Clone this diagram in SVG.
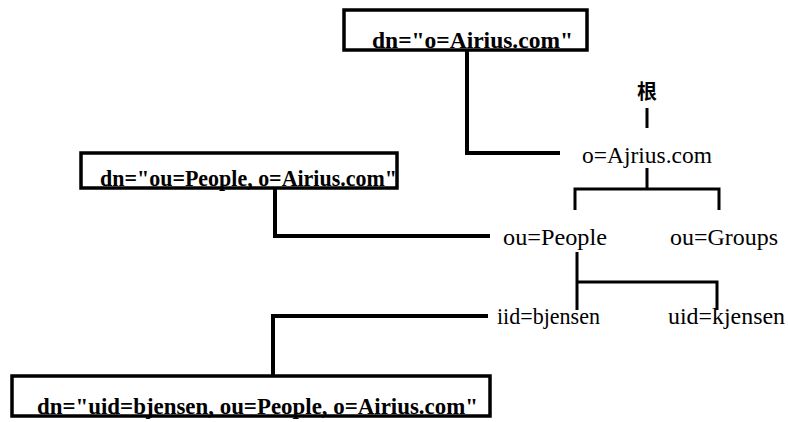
<svg xmlns="http://www.w3.org/2000/svg" width="788" height="422" viewBox="0 0 788 422">
<style>
.box{fill:none;stroke:#000;stroke-width:3.5}
.bt{font-family:'Liberation Serif','Tinos','DejaVu Serif','Times New Roman',serif;font-size:23px;font-weight:bold;fill:#000}
.lb{font-family:'Liberation Serif','Tinos','DejaVu Serif','Times New Roman',serif;font-size:23px;fill:#000}
.cjk{font-family:'Noto Sans CJK SC','Noto Sans CJK JP',sans-serif;font-size:20px;font-weight:bold;fill:#000}
.c{fill:none;stroke:#000;stroke-width:4}
.t{fill:none;stroke:#000;stroke-width:3}
</style>
<rect width="788" height="422" fill="#fff"/>
<g id="connectors">
<polyline class="c" points="467,50 467,153 560,153"/>
<polyline class="c" points="275,188 275,236 490,236"/>
<polyline class="c" points="273,376 273,316 488,316"/>
<line class="t" x1="647" y1="108" x2="647" y2="128"/>
<line class="t" x1="647" y1="168" x2="647" y2="189"/>
<polyline class="t" points="575,210 575,189 719,189 719,210"/>
<line class="t" x1="577" y1="252" x2="577" y2="310"/>
<polyline class="t" points="577,282 717,282 717,310"/>
</g>
<g id="box-root">
<rect class="box" x="344" y="10" width="243" height="40"/>
<text class="bt" x="372" y="48" textLength="201" lengthAdjust="spacingAndGlyphs">dn="o=Airius.com"</text>
</g>
<g id="box-people">
<rect class="box" x="81" y="153" width="316" height="35"/>
<text class="bt" x="100" y="186" textLength="297" lengthAdjust="spacingAndGlyphs">dn="ou=People, o=Airius.com"</text>
</g>
<g id="box-bjensen">
<rect class="box" x="12" y="376" width="478" height="40"/>
<text class="bt" x="37" y="414" textLength="441" lengthAdjust="spacingAndGlyphs">dn="uid=bjensen, ou=People, o=Airius.com"</text>
</g>
<g id="node-root"><text class="cjk" x="647" y="99" text-anchor="middle">根</text></g>
<g id="node-o"><text class="lb" x="582" y="163" textLength="130" lengthAdjust="spacingAndGlyphs">o=Ajrius.com</text></g>
<g id="node-people"><text class="lb" x="503" y="245" textLength="104" lengthAdjust="spacingAndGlyphs">ou=People</text></g>
<g id="node-groups"><text class="lb" x="670" y="245" textLength="108" lengthAdjust="spacingAndGlyphs">ou=Groups</text></g>
<g id="node-bjensen"><text class="lb" x="497" y="324" textLength="103" lengthAdjust="spacingAndGlyphs">iid=bjensen</text></g>
<g id="node-kjensen"><text class="lb" x="668" y="324" textLength="117" lengthAdjust="spacingAndGlyphs">uid=kjensen</text></g>
</svg>
